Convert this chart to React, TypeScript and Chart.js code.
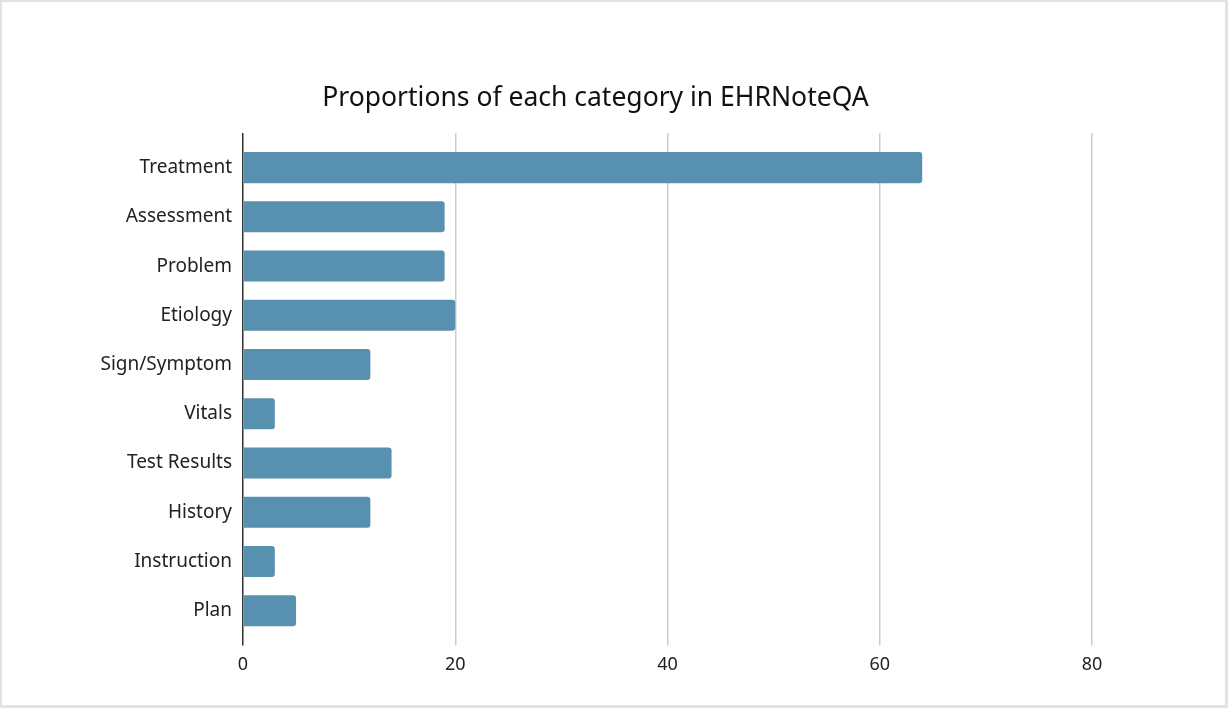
import React, { useEffect, useRef } from "react";
import { Chart, registerables } from "chart.js";

Chart.register(...registerables);

const categories = [
  "Treatment",
  "Assessment",
  "Problem",
  "Etiology",
  "Sign/Symptom",
  "Vitals",
  "Test Results",
  "History",
  "Instruction",
  "Plan",
];
const values = [64, 19, 19, 20, 12, 3, 14, 12, 3, 5];
const xMin = 0;
const xMax = 80;
const xStep = 20;
const title = "Proportions of each category in EHRNoteQA";

const FONT = "'Noto Sans', 'Open Sans', sans-serif";

export default function App() {
  const ref = useRef<HTMLCanvasElement | null>(null);

  useEffect(() => {
    if (!ref.current) return;
    const gridColor = (ctx: any) =>
      ctx.tick && ctx.tick.value === 0 ? "#333333" : "#cccccc";
    const chart = new Chart(ref.current, {
      type: "bar",
      data: {
        labels: categories,
        datasets: [
          {
            data: values,
            backgroundColor: "#5890b0",
            borderRadius: 3,
            borderSkipped: "start",
            barPercentage: 0.63,
            categoryPercentage: 1,
          },
        ],
      },
      options: {
        indexAxis: "y",
        animation: false,
        responsive: false,
        maintainAspectRatio: false,
        layout: { padding: { top: 40, left: 97, right: 133, bottom: 20 } },
        plugins: {
          legend: { display: false },
          tooltip: { enabled: false },
          title: {
            display: true,
            text: title,
            color: "#111111",
            font: { family: FONT, size: 26.5, weight: "normal" },
            padding: { top: 40.1, bottom: 19.1 },
          },
        },
        scales: {
          x: {
            type: "linear",
            position: "bottom",
            min: xMin,
            max: xMax,
            border: { display: false },
            grid: {
              color: gridColor,
              lineWidth: 1.5,
              drawTicks: true,
              tickLength: 10,
            },
            ticks: {
              stepSize: xStep,
              color: "#222222",
              padding: 9,
              font: { family: FONT, size: 18 },
            },
          },
          xTop: {
            type: "linear",
            position: "top",
            min: xMin,
            max: xMax,
            border: { display: false },
            grid: {
              color: gridColor,
              lineWidth: 1.5,
              drawOnChartArea: false,
              drawTicks: true,
              tickLength: 10,
            },
            ticks: { display: false, stepSize: xStep },
            afterFit: (s: any) => {
              s.height = 10;
            },
          },
          y: {
            type: "category",
            border: { display: false },
            grid: { display: false },
            ticks: {
              color: "#222222",
              padding: 3,
              font: { family: FONT, size: 19 },
            },
            afterFit: (s: any) => {
              s.width = 144;
            },
          },
        },
      } as any,
    });
    return () => chart.destroy();
  }, []);

  return (
    <div
      style={{
        position: "fixed",
        left: 0,
        top: 0,
        width: 1228,
        height: 708,
        boxSizing: "border-box",
        borderStyle: "solid",
        borderColor: "#dfe2e8",
        borderWidth: "2px 3px 3px 2px",
        background: "#ffffff",
      }}
    >
      <canvas ref={ref} width={1223} height={703} style={{ display: "block" }} />
    </div>
  );
}
